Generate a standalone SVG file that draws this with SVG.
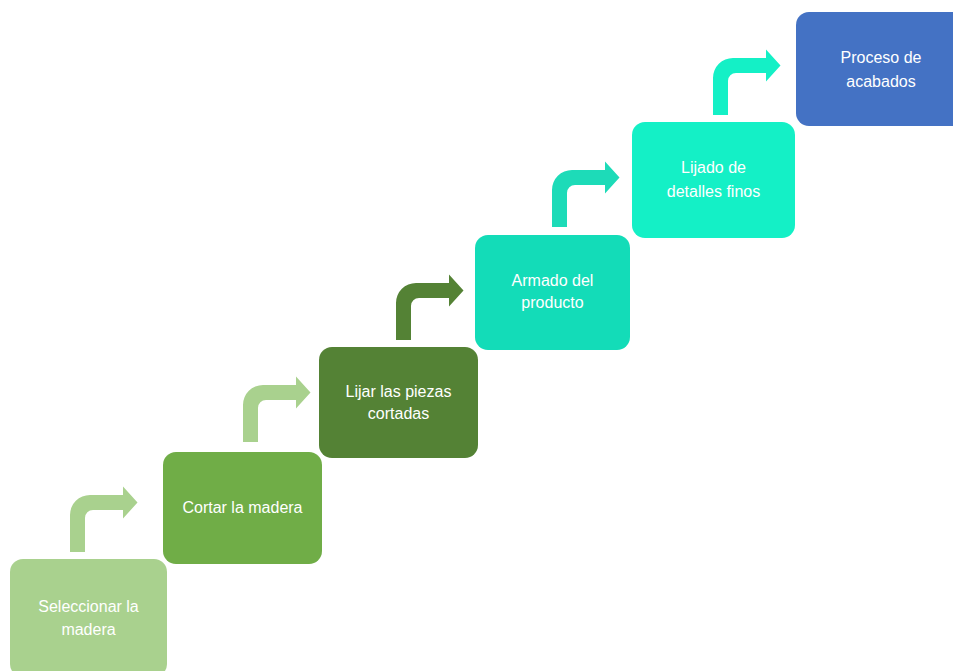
<svg xmlns="http://www.w3.org/2000/svg" xmlns:xlink="http://www.w3.org/1999/xlink" width="953" height="671" viewBox="0 0 953 671">
<style>
.box{stroke:none}
.lbl{font-family:"Liberation Sans",Arial,sans-serif;font-size:16px;fill:#ffffff;text-anchor:middle}
</style>
<defs>
<path id="bend" d="M0,57 V20 A20,20 0 0 1 20,0 H53 V-8.5 L67.5,7.5 L53,23.5 V15 H23 A8,8 0 0 0 15,23 V57 Z"/>
</defs>
<rect width="953" height="671" fill="#ffffff"/>
<g id="connectors">
<use xlink:href="#bend" href="#bend" transform="translate(70,495)" fill="#a9d18e"/>
<use xlink:href="#bend" href="#bend" transform="translate(243,385)" fill="#a9d18e"/>
<use xlink:href="#bend" href="#bend" transform="translate(396,283)" fill="#548235"/>
<use xlink:href="#bend" href="#bend" transform="translate(552,170)" fill="#1ddbb8"/>
<use xlink:href="#bend" href="#bend" transform="translate(713,58)" fill="#14f0c6"/>
</g>
<g id="n1">
<rect class="box" x="10" y="559" width="157" height="118" rx="13" fill="#a9d18e"/>
<text class="lbl" x="88.5" y="612">Seleccionar la</text>
<text class="lbl" x="88.5" y="635">madera</text>
</g>
<g id="n2">
<rect class="box" x="163" y="452" width="159" height="112" rx="13" fill="#70ad47"/>
<text class="lbl" x="242.5" y="513">Cortar la madera</text>
</g>
<g id="n3">
<rect class="box" x="319" y="347" width="159" height="111" rx="13" fill="#548235"/>
<text class="lbl" x="398.5" y="397">Lijar las piezas</text>
<text class="lbl" x="398.5" y="419">cortadas</text>
</g>
<g id="n4">
<rect class="box" x="475" y="235" width="155" height="115" rx="13" fill="#13dcb8"/>
<text class="lbl" x="552.5" y="286">Armado del</text>
<text class="lbl" x="552.5" y="308">producto</text>
</g>
<g id="n5">
<rect class="box" x="632" y="122" width="163" height="116" rx="13" fill="#14f0c6"/>
<text class="lbl" x="713.5" y="173">Lijado de</text>
<text class="lbl" x="713.5" y="197">detalles finos</text>
</g>
<g id="n6">
<rect class="box" x="796" y="12" width="170" height="114" rx="13" fill="#4472c4"/>
<text class="lbl" x="881" y="63">Proceso de</text>
<text class="lbl" x="881" y="87">acabados</text>
</g>
</svg>
